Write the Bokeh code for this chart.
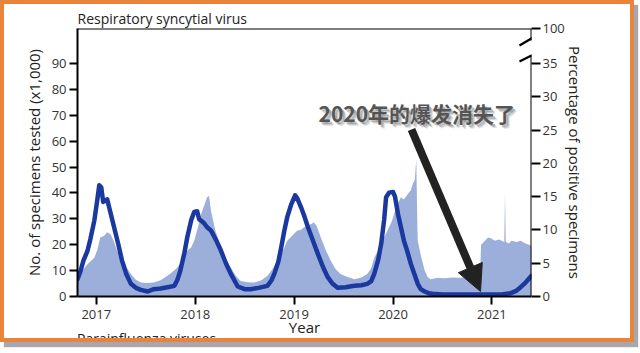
from bokeh.plotting import figure
from bokeh.models import (Range1d, LinearAxis, FixedTicker, Label, Arrow,
                          NormalHead, Span, InlineStyleSheet)
from bokeh.embed import file_html
from bokeh.resources import INLINE

# ---------------- data ----------------
tested_year = [
    2016.81, 2016.84, 2016.87, 2016.91, 2016.94, 2016.98, 2017.01, 2017.04, 2017.08, 2017.11,
    2017.145, 2017.18, 2017.21, 2017.25, 2017.28, 2017.31, 2017.35, 2017.40, 2017.45, 2017.50,
    2017.55, 2017.58, 2017.65, 2017.72, 2017.77, 2017.82, 2017.87, 2017.92, 2017.96, 2017.99,
    2018.03, 2018.06, 2018.09, 2018.12, 2018.14, 2018.16, 2018.20, 2018.26, 2018.31, 2018.36,
    2018.41, 2018.46, 2018.53, 2018.60, 2018.67, 2018.73, 2018.78, 2018.83, 2018.88, 2018.93,
    2018.98, 2019.03, 2019.07, 2019.10, 2019.15, 2019.20, 2019.23, 2019.27, 2019.32, 2019.37,
    2019.42, 2019.47, 2019.54, 2019.61, 2019.68, 2019.74, 2019.78, 2019.81, 2019.86, 2019.91,
    2019.95, 2019.99, 2020.01, 2020.05, 2020.08, 2020.11, 2020.15, 2020.18, 2020.20, 2020.22,
    2020.235, 2020.245, 2020.25, 2020.28, 2020.32, 2020.35, 2020.38, 2020.45, 2020.52, 2020.60,
    2020.68, 2020.75, 2020.82, 2020.88, 2020.89, 2020.93, 2020.96, 2020.99, 2021.03, 2021.07,
    2021.10, 2021.125, 2021.132, 2021.14, 2021.17, 2021.20, 2021.25, 2021.29, 2021.34, 2021.40]
tested_thousands = [
    9, 11, 10.5, 12.5, 13.5, 15, 18, 22.8, 23.5, 24.8,
    24, 21, 17.7, 15, 13.8, 11, 8.7, 6.5, 5.4, 5.2,
    5.3, 5.4, 6.3, 8, 9.5, 11.2, 14, 17.7, 19, 21.5,
    27, 31.9, 35, 38.3, 38.8, 33, 26, 19, 14.5, 11.2,
    8, 6, 5.5, 5.4, 6.3, 8, 10.5, 13.8, 17, 21.5,
    23.5, 25.4, 25.8, 26.7, 27.5, 28.6, 27, 22.8, 18, 13.8,
    10.5, 8.7, 7.5, 6.7, 7.3, 8.7, 11, 15, 18.5, 22.8,
    26, 29.3, 31.9, 36, 38.3, 37.5, 39.6, 41, 43.5, 45,
    53, 30, 21.5, 16, 10, 7.5, 6.7, 7.2, 7.0, 7.3,
    7.2, 7.5, 7.4, 7.5, 20, 21.5, 22.8, 22.5, 21.5, 22,
    21.5, 21, 40, 21, 20.5, 21.5, 21, 21.5, 20.5, 19.6]

pct_year = [
    2016.81, 2016.84, 2016.87, 2016.91, 2016.94, 2016.98, 2017.01, 2017.03, 2017.05, 2017.07,
    2017.09, 2017.11, 2017.14, 2017.18, 2017.22, 2017.26, 2017.30, 2017.35, 2017.40, 2017.45,
    2017.52, 2017.58, 2017.65, 2017.72, 2017.79, 2017.82, 2017.85, 2017.89, 2017.92, 2017.96,
    2017.99, 2018.02, 2018.04, 2018.06, 2018.09, 2018.12, 2018.16, 2018.21, 2018.26, 2018.31,
    2018.36, 2018.43, 2018.50, 2018.56, 2018.64, 2018.73, 2018.77, 2018.80, 2018.84, 2018.87,
    2018.90, 2018.93, 2018.97, 2019.01, 2019.03, 2019.07, 2019.10, 2019.14, 2019.19, 2019.24,
    2019.29, 2019.34, 2019.39, 2019.44, 2019.52, 2019.61, 2019.68, 2019.74, 2019.78, 2019.81,
    2019.85, 2019.88, 2019.91, 2019.93, 2019.96, 2020.00, 2020.02, 2020.05, 2020.08, 2020.11,
    2020.15, 2020.18, 2020.22, 2020.25, 2020.28, 2020.32, 2020.36, 2020.40, 2020.50, 2020.60,
    2020.70, 2020.80, 2020.90, 2021.00, 2021.10, 2021.19, 2021.24, 2021.29, 2021.34, 2021.40]
pct_positive = [
    2.6, 3.8, 5.4, 6.8, 8.6, 11.4, 14.5, 16.7, 16.4, 14.2,
    14.4, 14.6, 12.8, 10.4, 8.0, 5.4, 3.5, 1.9, 1.3, 1.0,
    0.75, 1.1, 1.2, 1.4, 1.6, 2.5, 3.9, 6.5, 8.9, 11.5,
    12.7, 12.8, 11.6, 11.4, 11.0, 10.4, 9.9, 8.5, 6.9, 5.0,
    3.4, 1.5, 1.1, 1.1, 1.3, 1.6, 2.4, 3.4, 5.2, 7.4,
    9.8, 11.9, 13.8, 15.2, 14.8, 13.4, 12.2, 10.4, 8.4, 6.4,
    4.5, 2.9, 1.9, 1.3, 1.4, 1.6, 1.7, 1.9, 2.3, 3.4,
    5.5, 7.9, 11.5, 14.9, 15.6, 15.7, 15.0, 12.4, 10.4, 8.4,
    6.5, 4.9, 3.2, 1.9, 1.1, 0.75, 0.5, 0.4, 0.3, 0.3,
    0.3, 0.3, 0.3, 0.3, 0.3, 0.5, 0.8, 1.4, 2.1, 3.1]

year_ticks = [2017, 2018, 2019, 2020, 2021]
left_ticks = [0, 10, 20, 30, 40, 50, 60, 70, 80, 90]
right_ticks = [0, 5, 10, 15, 20, 25, 30, 35]
right_top_label = "100"

title_text = "Respiratory syncytial virus"
next_panel_text = "Parainfluenza viruses"
note_text = "2020年的爆发消失了"

# ---------------- layout ----------------
W, H = 640, 353
FL, FR, FT, FB = 77, 109, 28, 57          # borders around the frame (px)
FW, FH = W - FL - FR, H - FT - FB
X0, X1 = 2016.81, 2021.40
Y1 = 103.5
P1 = 40.26
P_TOP = 40.26

def px2x(px):
    return X0 + (px - FL) / FW * (X1 - X0)

def py2y(py):
    return Y1 - (py - FT) / FH * Y1

def py2p(py):
    return P1 - (py - FT) / FH * P1

FONT = "Open Sans"
CJK = "Noto Sans CJK SC"
TXT = "#222222"

# decorative orange frame with a drop shadow around the whole picture
frame_css = InlineStyleSheet(css="""
:host { position: relative; }
:host::before {
  content: "%s";
  position: absolute; left: 77px; top: 329px;
  font-family: 'Open Sans', sans-serif; font-size: 14px; color: #222;
  pointer-events: none; z-index: 9;
}
:host::after {
  content: "";
  position: absolute; left: 0px; top: 0px; width: 626px; height: 334px;
  border: 4px solid #e8843c;
  box-shadow: 4px 5px 1px #a9a7ad;
  pointer-events: none; z-index: 10;
}
""" % next_panel_text)

p = figure(width=W, height=H, output_backend="svg", toolbar_location=None,
           x_range=Range1d(X0, X1), y_range=Range1d(0, Y1),
           min_border_left=FL, min_border_right=FR, min_border_top=FT, min_border_bottom=FB,
           background_fill_color="white", border_fill_color="white",
           outline_line_color=None, stylesheets=[frame_css])
p.grid.visible = False
p.extra_y_ranges = {"pct": Range1d(0, P1)}

p.title.text = title_text
p.title.align = "left"
p.title.text_font = FONT
p.title.text_font_size = "14px"
p.title.text_font_style = "normal"
p.title.text_color = TXT
p.title.standoff = 1

p.varea(x=tested_year, y1=0, y2=tested_thousands, fill_color="#9cafdb", fill_alpha=1)
p.line(x=pct_year, y=pct_positive, y_range_name="pct", line_color="#1b389e",
       line_width=4.5, line_join="round", line_cap="round")

right = LinearAxis(y_range_name="pct")
p.add_layout(right, "right")

def style(ax):
    ax.axis_line_width = 2
    ax.axis_line_color = "black"
    ax.major_tick_line_width = 2
    ax.major_tick_line_color = "black"
    ax.major_tick_out = 8
    ax.major_tick_in = 0
    ax.minor_tick_line_color = None
    ax.major_label_text_font = FONT
    ax.major_label_text_font_size = "13px"
    ax.major_label_text_color = "#333333"
    ax.axis_label_text_font = FONT
    ax.axis_label_text_font_style = "normal"
    ax.axis_label_text_font_size = "15px"
    ax.axis_label_text_color = TXT

xa = p.xaxis[0]
ya = p.yaxis[0]
for ax in (xa, ya, right):
    style(ax)

xa.ticker = FixedTicker(ticks=year_ticks)
xa.axis_label = "Year"
xa.major_label_standoff = 5
xa.axis_label_standoff = -5

ya.ticker = FixedTicker(ticks=left_ticks)
ya.axis_label = "No. of specimens tested (x1,000)"
ya.major_label_standoff = 3
ya.axis_label_standoff = 5

right.ticker = FixedTicker(ticks=right_ticks + [P_TOP])
overrides = {t: str(t) for t in right_ticks}
overrides[P_TOP] = right_top_label
right.major_label_overrides = overrides
right.axis_line_color = None
right.major_tick_out = 9
right.major_label_standoff = 2
right.axis_label = "Percentage of positive specimens"
right.axis_label_standoff = -3

# top frame line
p.add_layout(Span(location=Y1, dimension="width", line_color="black", line_width=2))

def seg(x0, y0, x1, y1, color, width, rng="pct"):
    p.add_layout(Arrow(end=None, x_start=x0, y_start=y0, x_end=x1, y_end=y1,
                       line_color=color, line_width=width, y_range_name=rng))

# right axis line with a break
seg(X1, 0, X1, py2p(55), "black", 2)
seg(X1, py2p(40), X1, P1, "black", 2)
seg(px2x(519), py2p(45), px2x(541), py2p(32), "black", 2.2)
seg(px2x(519), py2p(61), px2x(543), py2p(49), "black", 2.2)

# annotation text with shadow
for off, a in ((4, 0.10), (3, 0.15), (2, 0.2)):
    p.add_layout(Label(x=px2x(318), y=py2y(112), text=note_text,
                       text_font=CJK, text_font_style="bold",
                       text_font_size="21px", text_color="black", text_alpha=a,
                       text_baseline="middle", x_offset=off, y_offset=-off))
p.add_layout(Label(x=px2x(318), y=py2y(112), text=note_text,
                   text_font=CJK, text_font_style="bold",
                   text_font_size="21px", text_color="#555555", text_baseline="middle"))

# big arrow
p.add_layout(Arrow(end=NormalHead(size=26, fill_color="#222222", line_color="#222222"),
                   x_start=px2x(411), y_start=py2y(129), x_end=px2x(480), y_end=py2y(291),
                   line_color="#222222", line_width=8))

open("out.html", "w").write(file_html(p, INLINE))
